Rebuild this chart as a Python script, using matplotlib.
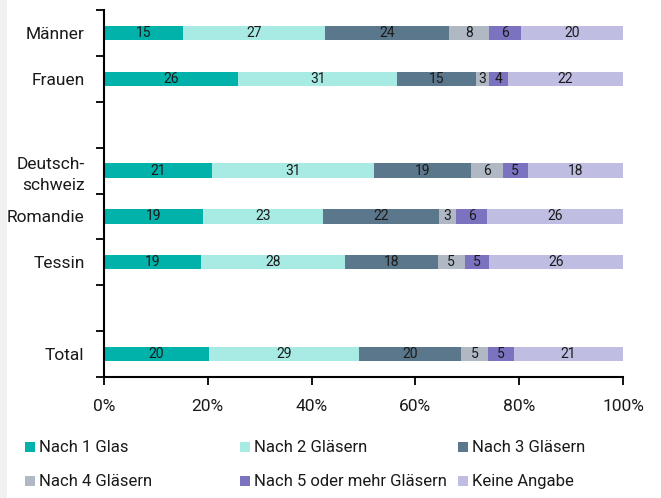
import matplotlib
matplotlib.use("Agg")
import matplotlib.pyplot as plt
from matplotlib.patches import Rectangle
import numpy as np

plt.rcParams["font.family"] = ["Roboto", "DejaVu Sans"]

categories = ["Männer", "Frauen", "", "Deutsch-\nschweiz", "Romandie", "Tessin", "", "Total"]
series = ["Nach 1 Glas", "Nach 2 Gläsern", "Nach 3 Gläsern",
          "Nach 4 Gläsern", "Nach 5 oder mehr Gläsern", "Keine Angabe"]
colors = ["#00B2A9", "#A8EAE4", "#5B778C", "#B0B8C4", "#7B73C0", "#BFBEE2"]

# shares in percent per group (None = spacer row)
nach_1 = [15.2, 25.8, None, 20.8, 19.0, 18.6, None, 20.2]
nach_2 = [27.4, 30.7, None, 31.2, 23.2, 27.8, None, 28.9]
nach_3 = [23.9, 15.1, None, 18.8, 22.3, 17.9, None, 19.7]
nach_4 = [7.6, 2.6, None, 6.0, 3.4, 5.2, None, 5.2]
nach_5 = [6.2, 3.6, None, 4.8, 5.9, 4.6, None, 5.0]
keine = [19.7, 22.2, None, 18.4, 26.2, 25.9, None, 21.0]
values = [nach_1, nach_2, nach_3, nach_4, nach_5, keine]

xticks = [0, 20, 40, 60, 80, 100]
xticklabels = ["0%", "20%", "40%", "60%", "80%", "100%"]

W, H = 661, 498
fig = plt.figure(figsize=(W / 100, H / 100), dpi=100)
fig.patches.append(Rectangle((0, 0), 7 / W, 1, transform=fig.transFigure,
                             facecolor="#F0F1F0", edgecolor="none", zorder=0))

ax = fig.add_axes([104 / W, 1 - 377 / H, (623 - 104) / W, (377 - 10) / H])
ypos = np.arange(len(categories))
left = np.zeros(len(categories))
for name, vals, col in zip(series, values, colors):
    for i, v in enumerate(vals):
        if v is None:
            continue
        ax.barh(ypos[i], v, left=left[i], height=0.31, color=col,
                edgecolor="none")
        ax.text(left[i] + v / 2, ypos[i], f"{round(v):d}", ha="center",
                va="center", fontsize=10, color="#1a1a1a")
        left[i] += v

ax.set_xlim(0, 100)
ax.set_ylim(len(categories) - 0.5, -0.5)
ax.set_yticks(ypos)
ax.set_yticklabels(categories, fontsize=12.5, linespacing=1.5, color="#1a1a1a")
ax.set_yticks(np.arange(-0.5, len(categories)), minor=True)
ax.tick_params(axis="y", which="major", length=0, pad=14)
ax.tick_params(axis="y", which="minor", length=6, width=1.3, direction="out")
ax.set_xticks(xticks)
ax.set_xticklabels(xticklabels, fontsize=12.5, color="#1a1a1a")
ax.tick_params(axis="x", length=6, width=1.3, direction="out", pad=10)
for s in ["top", "right"]:
    ax.spines[s].set_visible(False)
for s in ["left", "bottom"]:
    ax.spines[s].set_linewidth(1.5)

# legend, three columns in two rows
col_x = [25, 240, 458]
row_y = [447, 481]
for k, (name, col) in enumerate(zip(series, colors)):
    cx = col_x[k % 3]
    cy = row_y[k // 3]
    fig.patches.append(Rectangle((cx / W, 1 - (cy + 5) / H), 10 / W, 10 / H,
                                 transform=fig.transFigure, facecolor=col,
                                 edgecolor="none"))
    fig.text((cx + 14) / W, 1 - cy / H, name, fontsize=12, va="center",
             ha="left", color="#1a1a1a")

fig.savefig("out.png", dpi=100)
